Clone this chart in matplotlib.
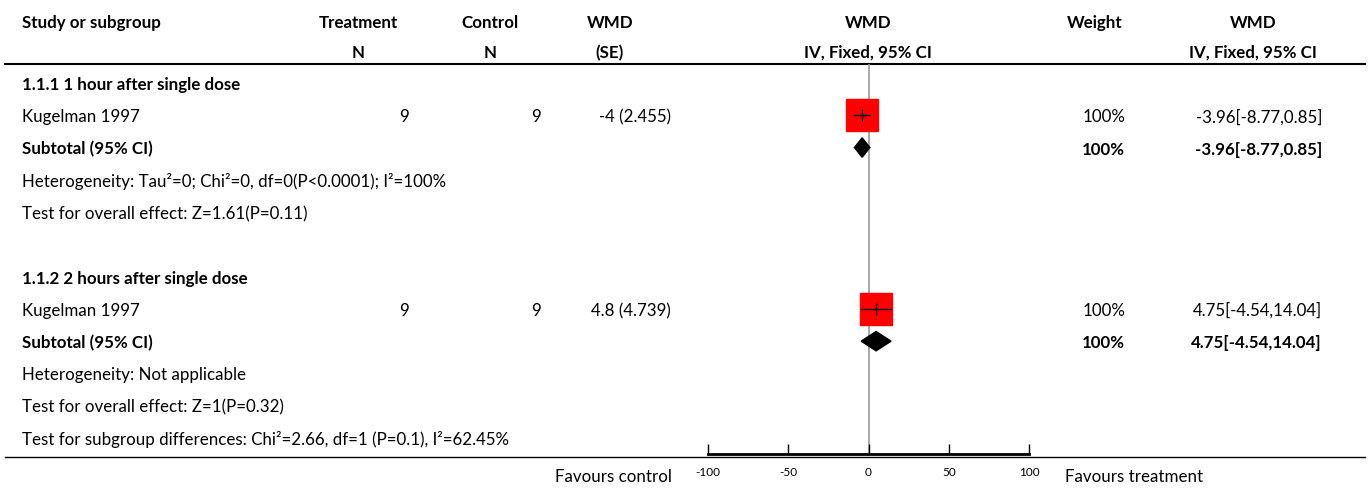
import numpy as np
import matplotlib.pyplot as plt
from matplotlib.patches import Polygon

plt.rcParams['font.family'] = ['Lato', 'DejaVu Sans']
plt.rcParams['axes.unicode_minus'] = False

# =====================================================
# Data
# =====================================================

subgroups = ["1.1.1 1 hour after single dose", "1.1.2 2 hours after single dose"]
studies = ["Kugelman 1997", "Kugelman 1997"]
treat_n = [9, 9]
control_n = [9, 9]
wmd_se = ["-4 (2.455)", "4.8 (4.739)"]
est = [-3.96, 4.75]
ci_lo = [-8.77, -4.54]
ci_hi = [0.85, 14.04]
weight = ["100%", "100%"]
heterogeneity = ["Heterogeneity: Tau\u00b2=0; Chi\u00b2=0, df=0(P<0.0001); I\u00b2=100%",
                 "Heterogeneity: Not applicable"]
overall = ["Test for overall effect: Z=1.61(P=0.11)",
           "Test for overall effect: Z=1(P=0.32)"]
subgroup_diff = "Test for subgroup differences: Chi\u00b2=2.66, df=1 (P=0.1), I\u00b2=62.45%"
xticks = [-100, -50, 0, 50, 100]

# =====================================================
# Layout (pixels)
# =====================================================

W, H = 1370, 489
row0, rowh = 84, 32.27
fs = 12.2


def ypx(r):
    return row0 + rowh * r + 1


fig = plt.figure(figsize=(W / 100, H / 100), dpi=100)
ax0 = fig.add_axes([0, 0, 1, 1])
ax0.set_xlim(0, W)
ax0.set_ylim(H, 0)
ax0.axis("off")

# header
hdr = dict(fontsize=fs, fontweight="bold", va="center")
ax0.text(22, 23, "Study or subgroup", ha="left", **hdr)
ax0.text(358, 23, "Treatment", ha="center", **hdr)
ax0.text(358, 53, "N", ha="center", **hdr)
ax0.text(490, 23, "Control", ha="center", **hdr)
ax0.text(490, 53, "N", ha="center", **hdr)
ax0.text(610, 23, "WMD", ha="center", **hdr)
ax0.text(610, 53, "(SE)", ha="center", **hdr)
ax0.text(868, 23, "WMD", ha="center", **hdr)
ax0.text(868, 53, "IV, Fixed, 95% CI", ha="center", **hdr)
ax0.text(1095, 23, "Weight", ha="center", **hdr)
ax0.text(1253, 23, "WMD", ha="center", **hdr)
ax0.text(1253, 53, "IV, Fixed, 95% CI", ha="center", **hdr)
ax0.plot([5, 1365], [65, 65], color="black", lw=1.5)
ax0.plot([5, 1365], [457.5, 457.5], color="black", lw=1)

# forest axes
top_px, bot_px = 65, 455
left_px, right_px = 708, 1029
ax = fig.add_axes([left_px / W, (H - bot_px) / H,
                   (right_px - left_px) / W, (bot_px - top_px) / H])
ax.set_xlim(xticks[0], xticks[-1])
ax.set_ylim((bot_px - row0) / rowh, (top_px - row0) / rowh)
ax.patch.set_alpha(0)
for s in ["top", "left", "right"]:
    ax.spines[s].set_visible(False)
ax.spines["bottom"].set_linewidth(2)
ax.set_yticks([])
ax.set_xticks(xticks)
ax.tick_params(axis="x", direction="in", length=7, width=1, labelsize=8.5, pad=9)
ax.axvline(0, color="#999999", lw=1.2, zorder=0)

body = dict(fontsize=fs, va="center")
bold = dict(fontsize=fs, va="center", fontweight="bold")

for g in range(2):
    base = 6 * g
    ax0.text(22, ypx(base), subgroups[g], ha="left", **bold)
    # study row
    r = base + 1
    ax0.text(22, ypx(r), studies[g], ha="left", **body)
    ax0.text(409, ypx(r), str(treat_n[g]), ha="right", **body)
    ax0.text(541, ypx(r), str(control_n[g]), ha="right", **body)
    ax0.text(671, ypx(r), wmd_se[g], ha="right", **body)
    ax0.text(1125, ypx(r), weight[g], ha="right", **body)
    ax0.text(1322, ypx(r), f"{est[g]:.2f}[{ci_lo[g]:.2f},{ci_hi[g]:.2f}]", ha="right", **body)
    ax.plot(est[g], r, marker="s", markersize=22.5, color="#ff0000", mec="#ff0000", zorder=2)
    ax.plot([ci_lo[g], ci_hi[g]], [r, r], color="black", lw=1, zorder=3)
    ax.plot(est[g], r, marker="|", markersize=9, color="black", mew=1, zorder=3)
    # subtotal row
    r = base + 2
    ax0.text(22, ypx(r), "Subtotal (95% CI)", ha="left", **bold)
    ax0.text(1125, ypx(r), weight[g], ha="right", **bold)
    ax0.text(1322, ypx(r), f"{est[g]:.2f}[{ci_lo[g]:.2f},{ci_hi[g]:.2f}]", ha="right", **bold)
    h = 0.3
    ax.add_patch(Polygon([(ci_lo[g], r), (est[g], r - h), (ci_hi[g], r), (est[g], r + h)],
                         closed=True, color="black", zorder=3))
    ax0.text(22, ypx(base + 3), heterogeneity[g], ha="left", **body)
    ax0.text(22, ypx(base + 4), overall[g], ha="left", **body)

ax0.text(22, ypx(11), subgroup_diff, ha="left", **body)
ax0.text(672, 477, "Favours control", ha="right", **body)
ax0.text(1065, 477, "Favours treatment", ha="left", **body)

fig.savefig("out.png", dpi=100)
